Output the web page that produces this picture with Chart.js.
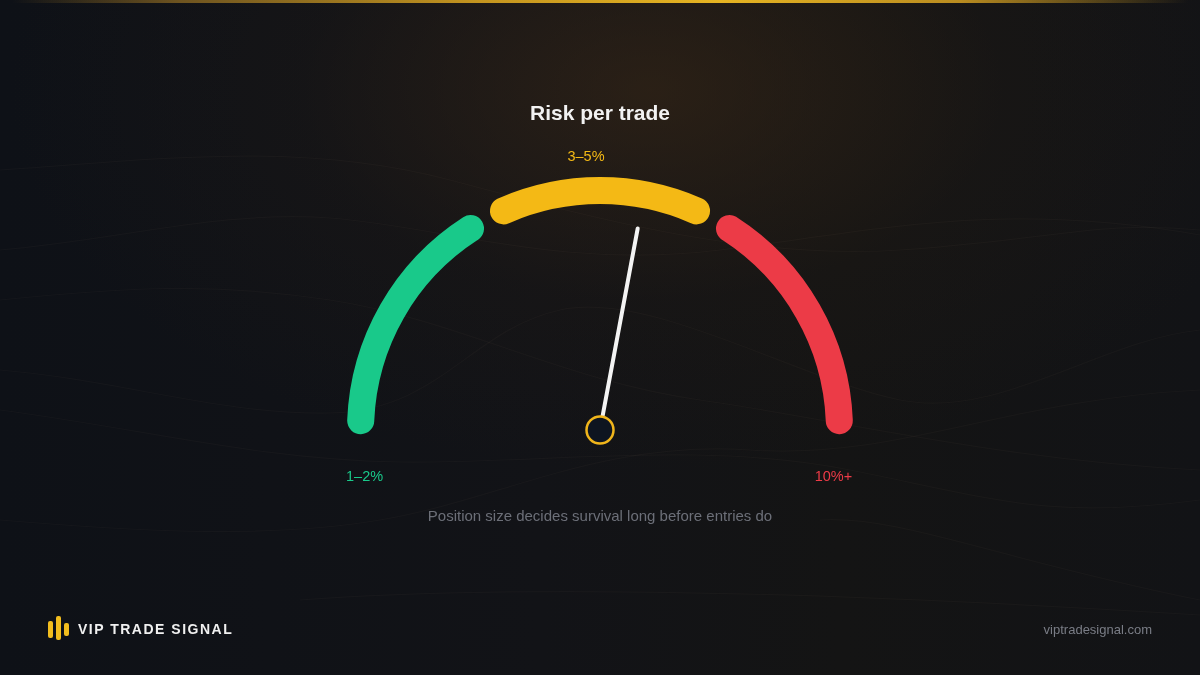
<!DOCTYPE html>
<html>
<head>
<meta charset="utf-8">
<script src="https://cdn.jsdelivr.net/npm/chart.js@4.4.1/dist/chart.umd.min.js"></script>
<style>
  html, body {
    margin: 0;
    padding: 0;
    width: 1200px;
    height: 675px;
    overflow: hidden;
    font-family: "Liberation Sans", Arial, sans-serif;
  }
  body {
    position: relative;
    background:
      radial-gradient(ellipse 640px 380px at 650px 90px, rgba(58, 40, 22, 0.6), rgba(40, 30, 20, 0.2) 55%, rgba(0, 0, 0, 0) 100%),
      linear-gradient(90deg, #0e1117 0%, #121317 45%, #141414 70%, #121316 100%);
  }
  .topbar {
    position: absolute;
    left: 0; top: 0;
    width: 1200px; height: 3px;
    background: linear-gradient(90deg, rgba(120, 90, 30, 0) 1%, #6e5420 15%, #c4951f 40%, #e6b422 60%, #b98c20 80%, rgba(120, 90, 30, 0) 99%);
  }
  svg.waves { position: absolute; left: 0; top: 0; }
  .wrap { position: absolute; left: 0; top: 0; width: 1200px; height: 675px; }
  .title {
    position: absolute; left: 0; width: 1200px; top: 101px;
    text-align: center; color: #f2f2f2; font-weight: bold; font-size: 21px;
  }
  .subtitle {
    position: absolute; left: 0; width: 1200px; top: 507px;
    text-align: center; color: #6c6f78; font-size: 15px;
  }
  .brand {
    position: absolute; left: 78px; top: 621px;
    color: #f0f0f0; font-weight: bold; font-size: 14px; letter-spacing: 1.5px;
  }
  .logo { position: absolute; left: 48px; top: 616px; }
  .logo span { position: absolute; width: 4.5px; border-radius: 2px; background: #f2bd1e; }
  .url {
    position: absolute; right: 48px; top: 622px;
    color: #7a7d86; font-size: 13px;
  }
</style>
</head>
<body>
<div class="topbar"></div>
<svg class="waves" width="1200" height="675" viewBox="0 0 1200 675">
  <g fill="none" stroke="rgba(210,180,130,0.035)" stroke-width="1.2">
    <path d="M0 250 C 120 240, 220 210, 330 218 S 560 270, 720 250 S 1000 200, 1200 235"/>
    <path d="M0 370 C 120 380, 220 415, 330 413 S 470 330, 560 310 S 800 380, 900 400 S 1100 340, 1200 330"/>
    <path d="M0 410 C 150 430, 260 460, 400 462 S 700 440, 850 470 S 1050 520, 1200 500"/>
    <path d="M0 520 C 120 530, 260 540, 380 520 S 600 440, 750 450 S 1000 400, 1200 390"/>
    <path d="M0 170 C 150 160, 300 140, 450 180 S 750 260, 900 250 S 1100 220, 1200 230"/>
    <path d="M0 300 C 100 290, 200 280, 330 300 S 560 380, 700 400 S 1000 460, 1200 470"/>
    <path d="M820 520 C 900 515, 1000 560, 1200 600"/>
    <path d="M300 600 C 500 585, 800 590, 1200 615"/>
  </g>
</svg>
<div class="wrap"><canvas id="gauge"></canvas></div>
<div class="title">Risk per trade</div>
<div class="subtitle">Position size decides survival long before entries do</div>
<div class="logo">
  <span style="left:0;top:5px;height:17px"></span>
  <span style="left:8px;top:0;height:24px"></span>
  <span style="left:16px;top:7px;height:13px"></span>
</div>
<div class="brand">VIP TRADE SIGNAL</div>
<div class="url">viptradesignal.com</div>

<script>
// gauge bands, in degrees of sweep, plus the gap between them
const bandLabels = ["1–2%", "3–5%", "10%+"];
const bandSizes = [61.5, 54, 61.5];
const bandColors = ["#19c98a", "#f4b915", "#ec3b47"];
const gapSize = 2.5;
// needle position on the same scale (0 = left end)
const needleValue = 101.6;

// interleave transparent gaps between the bands
const sliceData = [];
const sliceColors = [];
const sliceRadius = [];
bandSizes.forEach((v, i) => {
  if (i > 0) {
    sliceData.push(gapSize);
    sliceColors.push("rgba(0,0,0,0)");
    sliceRadius.push(0);
  }
  sliceData.push(v);
  sliceColors.push(bandColors[i]);
  sliceRadius.push(14);
});
const total = sliceData.reduce((a, b) => a + b, 0);

const needlePlugin = {
  id: "needle",
  afterDatasetsDraw(chart) {
    const meta = chart.getDatasetMeta(0);
    const arcs = meta.data;
    const first = arcs[0];
    const last = arcs[arcs.length - 1];
    const cx = first.x;
    const cy = first.y;
    const angle = first.startAngle + (last.endAngle - first.startAngle) * (needleValue / total);
    const ctx = chart.ctx;

    ctx.save();
    ctx.strokeStyle = "#f4f4f4";
    ctx.lineWidth = 4;
    ctx.lineCap = "round";
    ctx.beginPath();
    ctx.moveTo(cx + Math.cos(angle) * 14, cy + Math.sin(angle) * 14);
    ctx.lineTo(cx + Math.cos(angle) * 205, cy + Math.sin(angle) * 205);
    ctx.stroke();

    ctx.beginPath();
    ctx.arc(cx, cy, 13.5, 0, Math.PI * 2);
    ctx.fillStyle = "#0e1520";
    ctx.fill();
    ctx.lineWidth = 2.5;
    ctx.strokeStyle = "#f0b51b";
    ctx.stroke();
    ctx.restore();
  }
};

const labelPlugin = {
  id: "bandLabels",
  afterDatasetsDraw(chart) {
    const arcs = chart.getDatasetMeta(0).data;
    const bands = arcs.filter((a, i) => i % 2 === 0);
    const ctx = chart.ctx;
    ctx.save();
    ctx.font = "14.5px 'Liberation Sans', Arial, sans-serif";
    ctx.textAlign = "center";
    ctx.textBaseline = "middle";
    bands.forEach((arc, i) => {
      const midR = (arc.innerRadius + arc.outerRadius) / 2;
      let x, y;
      if (i === 0) {
        x = arc.x + Math.cos(arc.startAngle) * midR + 4;
        y = arc.y + 47;
      } else if (i === bands.length - 1) {
        x = arc.x + Math.cos(arc.endAngle) * midR - 6;
        y = arc.y + 47;
      } else {
        const mid = (arc.startAngle + arc.endAngle) / 2;
        x = arc.x + Math.cos(mid) * arc.outerRadius - 14;
        y = arc.y + Math.sin(mid) * arc.outerRadius - 20;
      }
      ctx.fillStyle = bandColors[i];
      ctx.fillText(bandLabels[i], x, y);
    });
    ctx.restore();
  }
};

new Chart(document.getElementById("gauge"), {
  type: "doughnut",
  data: {
    labels: sliceData.map((v, i) => (i % 2 === 0 ? bandLabels[i / 2] : "")),
    datasets: [
      {
        data: sliceData,
        backgroundColor: sliceColors,
        borderWidth: 0,
        borderRadius: sliceRadius,
        hoverOffset: 0
      }
    ]
  },
  options: {
    responsive: true,
    maintainAspectRatio: false,
    animation: false,
    events: [],
    rotation: -91,
    circumference: 182,
    radius: 253,
    cutout: "89.3%",
    layout: { padding: { bottom: 63.6 } },
    plugins: {
      legend: { display: false },
      tooltip: { enabled: false }
    }
  },
  plugins: [needlePlugin, labelPlugin]
});
</script>
</body>
</html>
